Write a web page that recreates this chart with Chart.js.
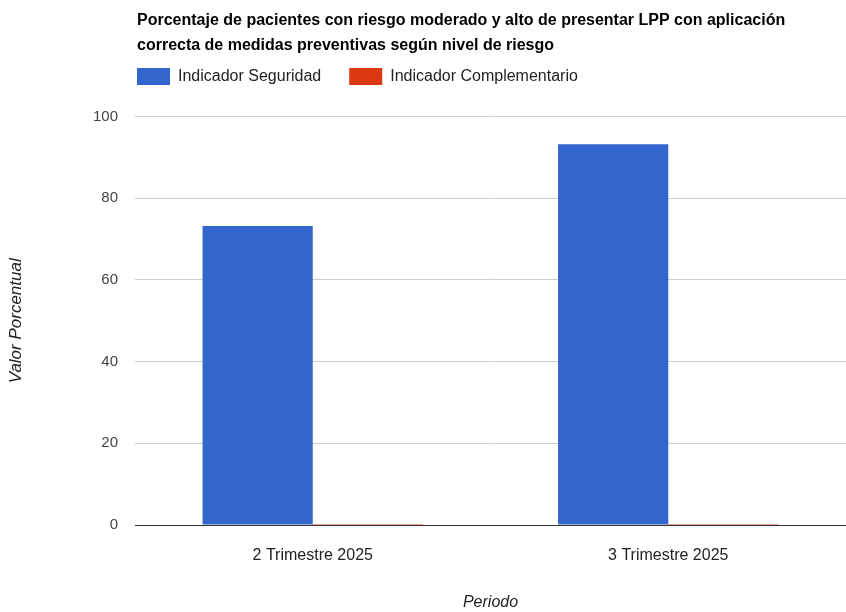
<!DOCTYPE html>
<html lang="es">
<head>
    <meta charset="UTF-8">
    <title>Porcentaje de pacientes con riesgo moderado y alto</title>
    <script src="https://cdn.jsdelivr.net/npm/chart.js"></script>
    <style>
        body {
            margin: 0;
            background: #fff;
        }

        .contenedor {
            position: relative;
            width: 846px;
            height: 612px;
        }
    </style>
</head>
<body>

    <div class="contenedor">
        <canvas id="grafico"></canvas>
    </div>

    <script>
        const periodos = ["2 Trimestre 2025", "3 Trimestre 2025"];
        const indicadorSeguridad = [73.2, 93.2];
        const indicadorComplementario = [0, 0];
        const ticksY = [0, 20, 40, 60, 80, 100];

        const titulo = [
            "Porcentaje de pacientes con riesgo moderado y alto de presentar LPP con aplicación",
            "correcta de medidas preventivas según nivel de riesgo"
        ];

        const fuente = "Arial, 'Liberation Sans', sans-serif";

        // mueve titulo y leyenda para alinearlos con el area del grafico
        const alinearArriba = {
            id: "alinearArriba",
            afterLayout(chart) {
                const izq = chart.chartArea.left + 2;
                if (chart.titleBlock) chart.titleBlock.left = izq;
                if (chart.legend) {
                    chart.legend.left = izq - chart.legend.options.labels.padding;
                    chart.legend.top = 68 - chart.legend.options.labels.padding;
                }
            }
        };

        new Chart(document.getElementById("grafico"), {
            type: "bar",
            data: {
                labels: periodos,
                datasets: [
                    {
                        label: "Indicador Seguridad",
                        data: indicadorSeguridad,
                        backgroundColor: "#3366cc"
                    },
                    {
                        label: "Indicador Complementario",
                        data: indicadorComplementario,
                        backgroundColor: "#dc3912",
                        minBarLength: 1
                    }
                ]
            },
            options: {
                responsive: true,
                maintainAspectRatio: false,
                animation: false,
                layout: { padding: { top: 0, right: 0, bottom: 0, left: 0 } },
                datasets: {
                    bar: { categoryPercentage: 0.62, barPercentage: 1 }
                },
                plugins: {
                    title: {
                        display: true,
                        text: titulo,
                        align: "start",
                        color: "#000",
                        font: { family: fuente, size: 16, weight: "bold", lineHeight: 1.55 },
                        padding: { top: 8, bottom: 4 }
                    },
                    legend: {
                        align: "start",
                        labels: {
                            boxWidth: 33,
                            boxHeight: 17,
                            padding: 28,
                            color: "#222",
                            font: { family: fuente, size: 16 }
                        }
                    },
                    tooltip: { enabled: false }
                },
                scales: {
                    x: {
                        z: 1,
                        grid: { display: false },
                        border: { display: true, color: "#333", width: 1 },
                        ticks: {
                            color: "#222",
                            padding: 13,
                            font: { family: fuente, size: 16 }
                        },
                        title: {
                            display: true,
                            text: "Periodo",
                            color: "#222",
                            font: { family: fuente, size: 16, style: "italic" },
                            padding: { top: 0, bottom: 0 }
                        },
                        afterFit: s => { s.height = 87; }
                    },
                    y: {
                        min: 0,
                        max: 100,
                        afterBuildTicks: s => { s.ticks = ticksY.map(v => ({ value: v })); },
                        grid: {
                            drawTicks: false,
                            color: c => c.tick.value === 0 ? "rgba(0,0,0,0)" : "#cccccc"
                        },
                        border: { display: false },
                        ticks: {
                            color: "#444",
                            padding: 17,
                            font: { family: fuente, size: 15 }
                        },
                        title: {
                            display: true,
                            text: "Valor Porcentual",
                            color: "#222",
                            font: { family: fuente, size: 17, style: "italic" },
                            padding: { top: 6, bottom: 0 }
                        },
                        afterFit: s => { s.width = 135; }
                    }
                }
            },
            plugins: [alinearArriba]
        });
    </script>

</body>
</html>
